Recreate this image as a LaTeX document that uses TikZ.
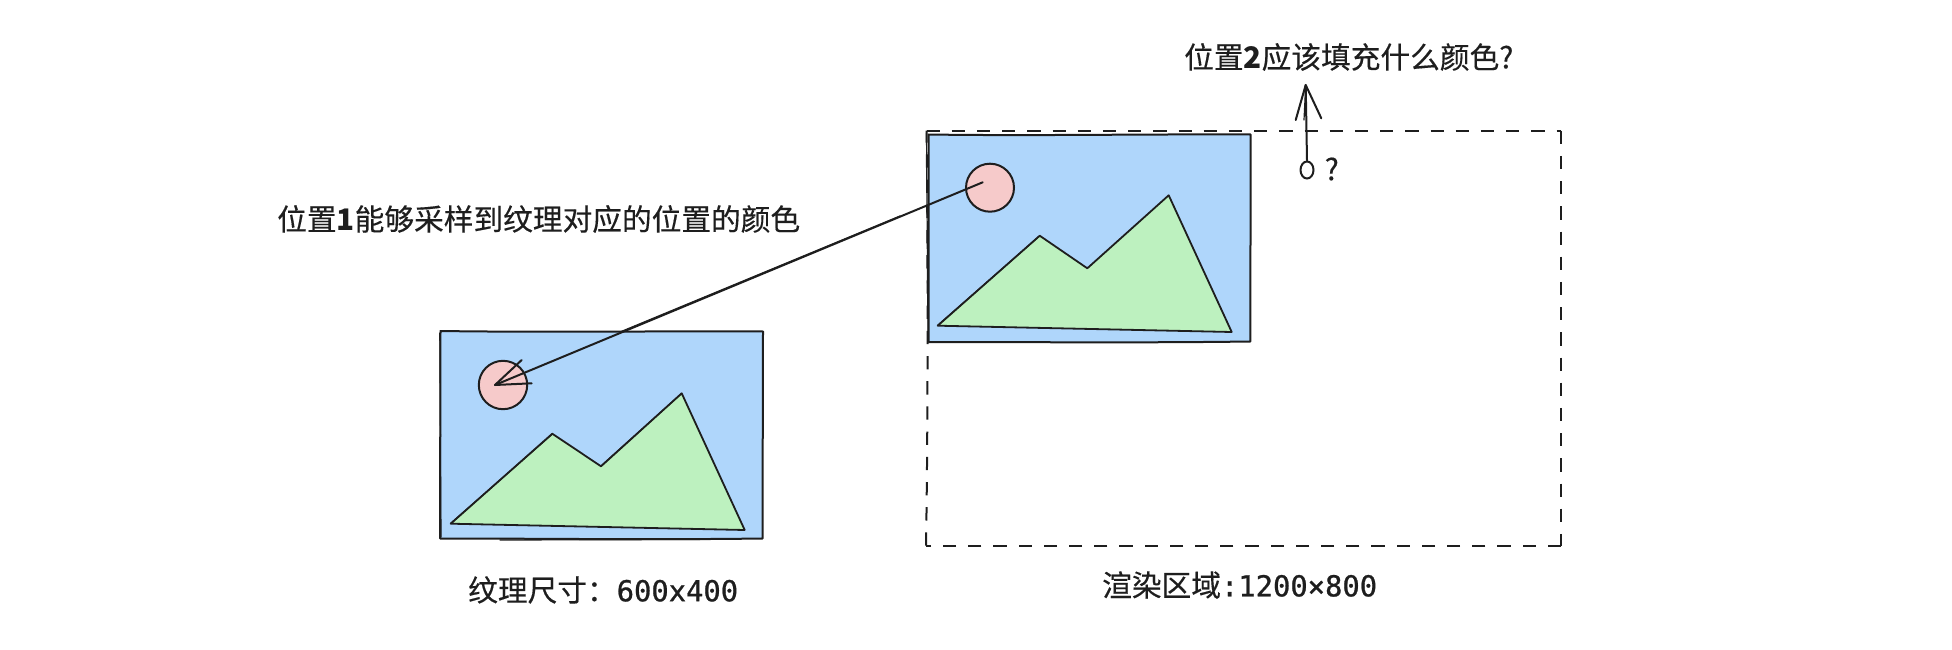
\documentclass[tikz,border=0pt]{standalone}
\usepackage{fontspec}
\usetikzlibrary{shapes.geometric}
\setmainfont[FakeBold=0.35,BoldFeatures={FakeBold=0}]{Noto Sans CJK SC}
\newfontfamily\codefont[FakeBold=0.9,Scale=0.97]{DejaVu Sans Mono}
\definecolor{sky}{HTML}{AFD6FB}
\definecolor{sun}{HTML}{F6CACA}
\definecolor{hill}{HTML}{BDF1BF}
\definecolor{ink}{HTML}{1E1E1E}
\tikzset{
  sketch/.style={draw=ink,line width=2pt,line join=round,line cap=round},
  thin sketch/.style={draw=ink,line width=1.2pt,line join=round,line cap=round},
  label text/.style={text=ink,inner sep=0pt,font=\fontsize{29.7}{33}\selectfont,anchor=west},
  dashed frame/.style={draw=ink,line width=2pt,dash pattern=on 13.3pt off 11.9pt},
}
\begin{document}
\begin{tikzpicture}[x=1pt,y=-1pt]
\useasboundingbox (0,0) rectangle (1952,650);
% dashed render area, each side starting with a dash at its corner
\coordinate (frameTL) at (926.5,130.7);
\coordinate (frameTR) at (1561,130.7);
\coordinate (frameBR) at (1561,545.7);
\coordinate (frameBL) at (926,545.7);
\draw[dashed frame] (frameTL) -- (frameTR);
\draw[dashed frame] (frameTR) -- (frameBR);
\draw[dashed frame] (frameBR) -- (frameBL);
\draw[dashed frame] (frameBL) .. controls (928,430) and (928,250) .. (frameTL);
% texture picture
\fill[sky] (440,331) rectangle (763,539);
\draw[sketch] (440.5,331) .. controls (540,332.5) and (650,331) .. (763,331.5) -- (762.5,538.5) .. controls (650,540) and (540,538.5) .. (440,538.5) -- cycle;
\draw[thin sketch] (439.8,333) -- (441,537) (500,540) -- (700,539.5);
\coordinate (sunA) at (503,385);
\filldraw[sketch,fill=sun] (sunA) circle (24.2);
\filldraw[sketch,fill=hill,line width=1.8pt] (450.7,523.7) -- (552.3,433.7) -- (601,466.3) -- (681.7,393.3) -- (744.7,530) -- cycle;
\draw[thin sketch] (451,523) -- (552,434.4) (602,465) -- (681,394);
% rendered picture
\fill[sky] (928.3,134.3) rectangle (1250.7,342);
\draw[sketch] (928.5,134.5) .. controls (1030,136) and (1140,134) .. (1250.7,134.5) -- (1250.3,341.5) .. controls (1140,343) and (1030,342) .. (928.5,342) -- cycle;
\draw[thin sketch] (926.5,133) -- (928,340);
\coordinate (sunB) at (990,187.7);
\filldraw[sketch,fill=sun] (sunB) circle (24);
\filldraw[sketch,fill=hill,line width=1.8pt] (937.7,325.7) -- (1039.7,235.7) -- (1087.3,268.3) -- (1168.7,195.3) -- (1231.7,332) -- cycle;
\draw[thin sketch] (938,325) -- (1039,236.5);
% mapping line with its open arrowhead at the texture end
\coordinate (lineEnd) at (982.7,182.3);
\coordinate (tip) at (495,385);
\coordinate (barbA) at (521.7,360);
\coordinate (barbB) at (531.7,383.3);
\draw[sketch] (lineEnd) -- (tip);
\draw[thin sketch] (900,216) -- (620,332);
\draw[sketch] (barbA) -- (tip) -- (barbB);
% question arrow
\node[draw=ink,line width=2pt,ellipse,inner sep=0pt,minimum width=13pt,minimum height=17pt] (probe) at (1307,170) {};
\coordinate (upTip) at (1305.7,85);
\coordinate (upBarbA) at (1295.7,120);
\coordinate (upBarbB) at (1321.3,118.3);
\draw[sketch] (probe.north) -- (upTip);
\draw[sketch] (upBarbA) -- (upTip) -- (upBarbB);
\draw[thin sketch] (1304,120) -- (upTip);
% labels
\node[label text] (qmark) at (1324.5,169) {?};
\node[label text] (ask) at (1184,57) {位置{\bfseries 2}应该填充什么颜色?};
\node[label text] (note) at (277,219) {位置{\bfseries 1}能够采样到纹理对应的位置的颜色};
\node[label text] (texsize) at (468,590) {纹理尺寸：{\codefont 600x400}};
\node[label text] (rensize) at (1102,585) {渲染区域{\codefont :1200×800}};
\end{tikzpicture}
\end{document}
